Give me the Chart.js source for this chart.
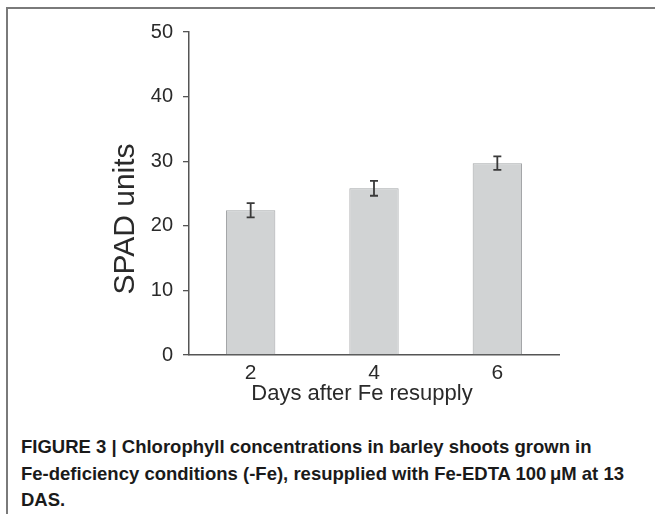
<!DOCTYPE html>
<html>
<head>
<meta charset="utf-8">
<script src="https://cdn.jsdelivr.net/npm/chart.js@4.4.1/dist/chart.umd.min.js"></script>
<style>
  html, body { margin: 0; padding: 0; background: #ffffff; }
  #wrap { position: relative; width: 655px; height: 514px; overflow: hidden; }
  #frame { position: absolute; left: 6px; top: 7px; width: 660px; height: 520px;
           border-top: 2px solid #7a7a7a; border-left: 2px solid #7a7a7a; }
  #cv { position: absolute; left: 0; top: 0; }
  #caption { position: absolute; left: 21px; top: 434px; width: 634px; white-space: nowrap;
             font-family: "Liberation Sans", Arial, Helvetica, sans-serif;
             font-weight: bold; font-size: 18.5px; line-height: 26.5px; color: #1a1a1a; }
</style>
</head>
<body>
<div id="wrap">
  <div id="frame"></div>
  <canvas id="cv" width="655" height="420"></canvas>
  <div id="caption">FIGURE 3 | Chlorophyll concentrations in barley shoots grown in<br>Fe-deficiency conditions (-Fe), resupplied with Fe-EDTA 100&#8201;&#956;M at 13<br>DAS.</div>
</div>
<script>
// ---- data ----
const categories = ["2", "4", "6"];
const spadValues = [22.4, 25.8, 29.7];
const spadErrors = [1.1, 1.15, 1.05];
const yTicks = [0, 10, 20, 30, 40, 50];
const xTitle = "Days after Fe resupply";
const yTitle = "SPAD units";

const FONT = '"Liberation Sans", Arial, Helvetica, sans-serif';
const TEXT = '#2a2a2a';
const AXIS = '#555555';

const errorBars = {
  id: 'errorBars',
  afterDatasetsDraw(chart) {
    const ctx = chart.ctx;
    const meta = chart.getDatasetMeta(0);
    const ys = chart.scales.y;
    ctx.save();
    ctx.strokeStyle = '#3a3a3a';
    ctx.lineWidth = 1.8;
    meta.data.forEach((bar, i) => {
      const v = spadValues[i], e = spadErrors[i];
      const x = bar.x;
      const yTop = ys.getPixelForValue(v + e);
      const yBot = ys.getPixelForValue(v - e);
      const cap = 4;
      ctx.beginPath();
      ctx.moveTo(x, yTop); ctx.lineTo(x, yBot);
      ctx.moveTo(x - cap, yTop); ctx.lineTo(x + cap, yTop);
      ctx.moveTo(x - cap, yBot); ctx.lineTo(x + cap, yBot);
      ctx.stroke();
    });
    ctx.restore();
  }
};

const axisTitles = {
  id: 'axisTitles',
  afterDraw(chart) {
    const ctx = chart.ctx;
    const a = chart.chartArea;
    ctx.save();
    ctx.fillStyle = TEXT;
    ctx.font = '30px ' + FONT;
    ctx.textAlign = 'center';
    ctx.textBaseline = 'middle';
    ctx.translate(a.left - 63, a.top + 187);
    ctx.rotate(-Math.PI / 2);
    ctx.fillText(yTitle, 0, 0);
    ctx.restore();
    ctx.save();
    ctx.fillStyle = TEXT;
    ctx.font = '22px ' + FONT;
    ctx.textAlign = 'center';
    ctx.textBaseline = 'alphabetic';
    ctx.fillText(xTitle, a.left + 173, a.bottom + 45);
    ctx.restore();
  }
};

new Chart(document.getElementById('cv'), {
  type: 'bar',
  data: {
    labels: categories,
    datasets: [{
      data: spadValues,
      backgroundColor: '#d1d3d4',
      borderColor: '#a4a6a8',
      borderWidth: 1,
      borderSkipped: 'bottom',
      barPercentage: 0.4,
      categoryPercentage: 1.0
    }]
  },
  options: {
    responsive: false,
    animation: false,
    devicePixelRatio: 1,
    layout: { padding: { top: 32, right: 96, bottom: 0, left: 0 } },
    plugins: { legend: { display: false }, tooltip: { enabled: false } },
    scales: {
      x: {
        grid: { display: false, drawTicks: false },
        border: { display: true, color: AXIS, width: 1.5 },
        ticks: { color: TEXT, font: { family: FONT, size: 21 }, padding: 6 },
        afterFit(scale) { scale.height = 65; }
      },
      y: {
        min: 0, max: 50,
        afterBuildTicks(scale) { scale.ticks = yTicks.map(v => ({ value: v })); },
        grid: { drawOnChartArea: false, drawTicks: true, tickLength: 6, color: AXIS, lineWidth: 1.3 },
        border: { display: true, color: AXIS, width: 1.5 },
        ticks: { color: TEXT, font: { family: FONT, size: 20 }, padding: 10 },
        afterFit(scale) { scale.width = 189; }
      }
    }
  },
  plugins: [errorBars, axisTitles]
});
</script>
</body>
</html>
